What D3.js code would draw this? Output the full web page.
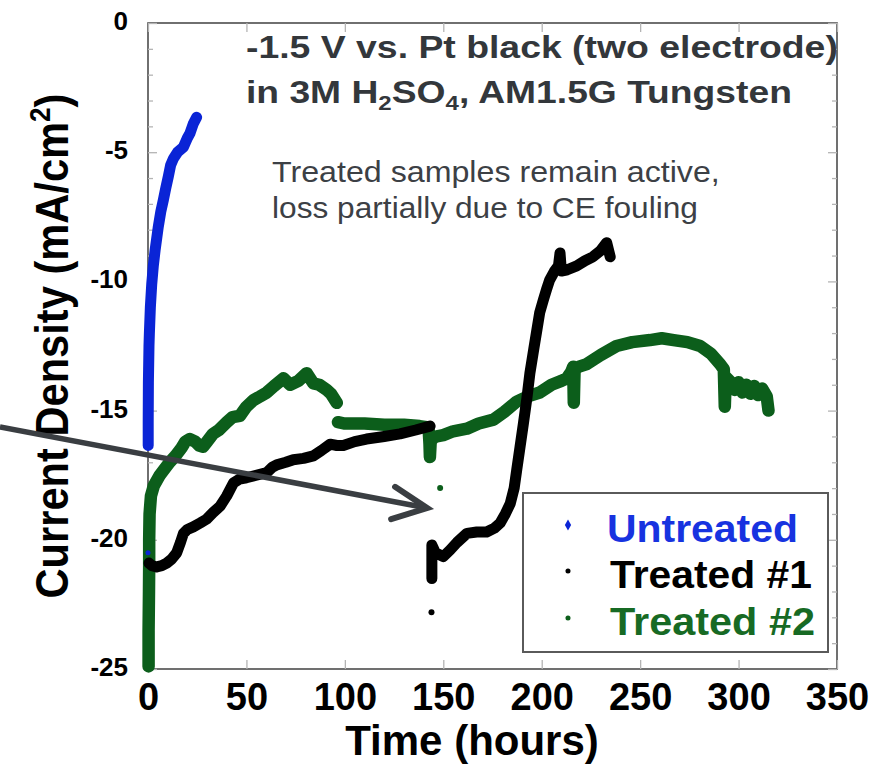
<!DOCTYPE html>
<html><head><meta charset="utf-8">
<script src="https://cdn.jsdelivr.net/npm/d3@7"></script>
<style>body{margin:0;background:#fff}svg{display:block}</style>
</head><body>
<svg id="chart" width="873" height="764"></svg>
<script>
// ---------------- data ----------------
const xTicks = [0, 50, 100, 150, 200, 250, 300, 350];
const yTicks = [0, -5, -10, -15, -20, -25];
const yMinorTicks = [-1,-2,-3,-4,-6,-7,-8,-9,-11,-12,-13,-14,-16,-17,-18,-19,-21,-22,-23,-24];
const seriesNames = ["Untreated", "Treated #1", "Treated #2"];

// [time (h), current density (mA/cm2)]; null = gap in the record
const untreated = [[0.1,-16.35],[0.1,-15.5],[0.2,-13.9],[0.5,-12.5],[0.7,-12.0],[1.2,-11.0],[1.9,-10.1],
  [2.7,-9.4],[3.6,-8.8],[5.2,-7.9],[6.5,-7.3],[7.8,-6.85],[9,-6.4],[10.3,-5.95],[11.5,-5.5],[12.9,-5.25],
  [15,-5.0],[18,-4.8],[20,-4.45],[21.3,-4.27],[23,-3.9],[24.7,-3.65]];
const untreatedStray = [[0,-20.5]];

const treated1 = [[0.5,-20.9],[2,-21.0],[4.4,-21.05],[7,-21.0],[9.5,-20.9],[12,-20.75],[14.6,-20.5],
  [16.5,-20.1],[18,-19.75],[20,-19.6],[23,-19.5],[26.5,-19.35],[29.8,-19.2],[33,-18.95],[36.6,-18.7],
  [40,-18.3],[43.4,-17.8],[46.5,-17.65],[50,-17.6],[55,-17.5],[60.3,-17.4],[63,-17.2],[65.4,-17.1],
  [70,-17.0],[73.8,-16.9],[79,-16.85],[84,-16.75],[88,-16.55],[92.5,-16.3],[96,-16.35],[99.2,-16.35],
  [105,-16.2],[111,-16.1],[120,-16.0],[128,-15.9],[136,-15.75],[143.3,-15.6],
  null,
  [144.2,-21.5],[144.2,-20.2],[146,-20.5],[150,-20.65],[153.4,-20.4],[157,-20.1],[162,-19.75],
  [167,-19.7],[172,-19.7],[176,-19.55],[178.9,-19.35],[181.5,-19.0],[184,-18.6],[186,-18.0],
  [187.3,-17.3],[189,-16.4],[190.7,-15.5],[192.5,-14.5],[194,-13.55],[196,-12.6],[197.5,-11.9],
  [199,-11.2],[200.9,-10.7],[202.5,-10.3],[204,-9.95],[206.5,-9.6],[208.5,-9.4],[209.3,-8.9],
  [210,-9.6],[213,-9.55],[217.8,-9.4],[222,-9.2],[226,-9.05],[230,-8.8],[233,-8.5],[234.8,-9.05]];
const treated1Stray = [[144,-22.8]];

const treated2 = [[0.3,-24.9],[0.3,-23.5],[0.5,-22.0],[0.6,-21.0],[0.6,-20.0],[0.8,-19.0],[1.5,-18.3],
  [3,-17.9],[6,-17.5],[8,-17.3],[11,-17.0],[14,-16.75],[17,-16.45],[19,-16.2],[21.3,-16.1],[24,-16.2],
  [26,-16.35],[28,-16.4],[30,-16.2],[33,-15.9],[36,-15.75],[40,-15.45],[43,-15.25],[46.7,-15.2],
  [50,-14.85],[53.5,-14.6],[57,-14.45],[60.3,-14.3],[64,-14.05],[68.8,-13.75],[72.2,-14.0],
  [76.4,-13.85],[80.6,-13.55],[84,-13.95],[87,-14.0],[90.8,-14.2],[93,-14.35],[95.9,-14.7],
  null,
  [96.5,-15.45],[100,-15.5],[110,-15.5],[120,-15.55],[130,-15.55],[138,-15.6],[142.5,-15.65],
  [143,-16.3],[143.2,-16.8],[143.6,-16.2],[145,-16.05],[146.7,-16.0],[150,-15.95],[155,-15.8],
  [162,-15.7],[168,-15.5],[175.5,-15.35],[181,-15.05],[187.3,-14.65],[193,-14.45],[199,-14.3],
  [205,-14.0],[210,-13.85],[212.7,-13.75],[215,-13.5],[216,-13.3],[216.3,-14.7],[216.7,-13.4],
  [219,-13.3],[222.9,-13.2],[230,-12.85],[238,-12.5],[246,-12.35],[255,-12.27],[261,-12.2],
  [267,-12.27],[274,-12.35],[280.5,-12.5],[286,-12.8],[290.6,-13.2],[292.5,-13.4],[293,-14.85],
  [293.5,-13.7],[296,-13.9],[298,-14.2],[300,-13.9],[302,-14.3],[304,-14.0],[306,-14.35],[308,-14.05],
  [310,-14.4],[312,-14.15],[314.3,-14.45],[315.2,-15.0]];
const treated2Stray = [[148.4,-18.0]];

// arrow annotation, in data units: start, tip, two wings
const arrowLine = [[-75.2,-15.63],[141.8,-18.77]];
const arrowHead = [[125.5,-17.95],[141.8,-18.77],[123.5,-19.2]];

// ---------------- drawing ----------------
const svg = d3.select("#chart");
const FONT = "'Liberation Sans', Arial, Helvetica, sans-serif";
const L = 148, R = 837, T = 23, B = 669;
const x = d3.scaleLinear().domain([0, 350]).range([L, R]);
const y = d3.scaleLinear().domain([-25, 0]).range([B, T]);

const COL_BLUE = "#0a24d6", COL_BLACK = "#000000", COL_GREEN = "#0c5e1b";
const plainNum = d => String(d);

function fitText(sel, target, sy) {
  const w = sel.node().getComputedTextLength();
  sel.attr("transform", `scale(${target / w},${sy || 1})`);
}

// frame
svg.append("rect").attr("x", L).attr("y", T).attr("width", R - L).attr("height", B - T)
  .attr("fill", "none").attr("stroke", "#4d4d4d").attr("stroke-width", 1.6);

function styleAxis(g) {
  g.select(".domain").remove();
  g.selectAll(".tick line").attr("stroke", "#b4b4b4").attr("stroke-width", 1.3);
}
// bottom axis
svg.append("g").attr("transform", `translate(0,${B})`)
  .call(d3.axisBottom(x).tickValues(xTicks).tickSizeInner(-9).tickSizeOuter(0).tickPadding(14).tickFormat(plainNum))
  .call(styleAxis)
  .call(g => g.selectAll("text").attr("font-family", FONT).attr("font-size", 38)
     .attr("font-weight", "bold").attr("fill", "#000"));
// top axis ticks
svg.append("g").attr("transform", `translate(0,${T})`)
  .call(d3.axisTop(x).tickValues(xTicks).tickSizeInner(-9).tickSizeOuter(0).tickFormat(""))
  .call(styleAxis);
// left axis
svg.append("g").attr("transform", `translate(${L},0)`)
  .call(d3.axisLeft(y).tickValues(yTicks).tickSizeInner(-9).tickSizeOuter(0).tickPadding(20).tickFormat(plainNum))
  .call(styleAxis)
  .call(g => g.selectAll("text").attr("font-family", FONT).attr("font-size", 26)
     .attr("font-weight", "bold").attr("fill", "#000").attr("dy", "0.25em"));
svg.append("g").attr("transform", `translate(${L},0)`)
  .call(d3.axisLeft(y).tickValues(yMinorTicks).tickSizeInner(-5).tickSizeOuter(0).tickFormat(""))
  .call(styleAxis);
// right axis ticks
svg.append("g").attr("transform", `translate(${R},0)`)
  .call(d3.axisRight(y).tickValues(yTicks).tickSizeInner(-9).tickSizeOuter(0).tickFormat(""))
  .call(styleAxis);
svg.append("g").attr("transform", `translate(${R},0)`)
  .call(d3.axisRight(y).tickValues(yMinorTicks).tickSizeInner(-5).tickSizeOuter(0).tickFormat(""))
  .call(styleAxis);

// axis titles
svg.append("text").attr("x", 472).attr("y", 755).attr("text-anchor", "middle")
  .attr("font-family", FONT).attr("font-size", 42).attr("font-weight", "bold").attr("fill", "#000")
  .text("Time (hours)");

const yTitleG = svg.append("g").attr("transform", "translate(68,346) rotate(-90)");
const yTitle = yTitleG.append("text").attr("text-anchor", "middle")
  .attr("font-family", FONT).attr("font-size", 43).attr("font-weight", "bold").attr("fill", "#000");
yTitle.append("tspan").text("Current Density (mA/cm");
yTitle.append("tspan").attr("font-size", 27).attr("dy", -17).text("2");
yTitle.append("tspan").attr("dy", 17).text(")");
fitText(yTitle, 505, 1.08);

// series
const line = d3.line().defined(d => d !== null).x(d => x(d[0])).y(d => y(d[1])).curve(d3.curveLinear);
const plot = svg.append("g");
function drawSeries(data, color, width) {
  plot.append("path").datum(data).attr("d", line).attr("fill", "none").attr("stroke", color)
    .attr("stroke-width", width).attr("stroke-linejoin", "round").attr("stroke-linecap", "round");
}
function drawStray(data, color, r) {
  plot.selectAll(null).data(data).enter().append("circle")
    .attr("cx", d => x(d[0])).attr("cy", d => y(d[1])).attr("r", r).attr("fill", color);
}
drawSeries(treated2, COL_GREEN, 12.5);
drawStray(treated2Stray, COL_GREEN, 3);
drawSeries(treated1, COL_BLACK, 11);
drawStray(treated1Stray, COL_BLACK, 3);
drawSeries(untreated, COL_BLUE, 11);
drawStray(untreatedStray, COL_BLUE, 2.5);

// arrow
const arrowCol = "#3a3e42";
const aLine = d3.line().x(d => x(d[0])).y(d => y(d[1]));
svg.append("path").datum(arrowLine).attr("d", aLine).attr("stroke", arrowCol).attr("stroke-width", 5.5)
  .attr("fill", "none").attr("stroke-linecap", "butt");
svg.append("path").datum(arrowHead).attr("d", aLine).attr("stroke", arrowCol).attr("stroke-width", 6)
  .attr("fill", "none").attr("stroke-linecap", "round").attr("stroke-linejoin", "miter");

// title block
const titleCol = "#33373b";
const t1g = svg.append("g").attr("transform", "translate(246,58)");
const t1 = t1g.append("text").attr("font-family", FONT).attr("font-size", 31).attr("font-weight", "bold")
  .attr("fill", titleCol).text("-1.5 V vs. Pt black (two electrode)");
fitText(t1, 592);
const t2g = svg.append("g").attr("transform", "translate(246,103)");
const t2 = t2g.append("text").attr("font-family", FONT).attr("font-size", 31).attr("font-weight", "bold")
  .attr("fill", titleCol);
t2.append("tspan").text("in 3M H");
t2.append("tspan").attr("font-size", 20).attr("dy", 7).text("2");
t2.append("tspan").attr("dy", -7).text("SO");
t2.append("tspan").attr("font-size", 20).attr("dy", 7).text("4");
t2.append("tspan").attr("dy", -7).text(", AM1.5G Tungsten");
fitText(t2, 546);

const noteCol = "#3c4045";
const n1g = svg.append("g").attr("transform", "translate(272,182)");
const n1 = n1g.append("text").attr("font-family", FONT).attr("font-size", 29).attr("fill", noteCol)
  .text("Treated samples remain active,");
fitText(n1, 448);
const n2g = svg.append("g").attr("transform", "translate(272,218)");
const n2 = n2g.append("text").attr("font-family", FONT).attr("font-size", 29).attr("fill", noteCol)
  .text("loss partially due to CE fouling");
fitText(n2, 426);

// legend
svg.append("rect").attr("x", 523).attr("y", 493).attr("width", 305).attr("height", 159)
  .attr("fill", "#fff").attr("stroke", "#5a5a5a").attr("stroke-width", 2);
const legendCols = ["#1733e0", "#000000", "#176a24"];
const markerCols = [COL_BLUE, COL_BLACK, COL_GREEN];
const legendBase = [542, 588, 635];
const legendX = [607, 610, 610];
const legendW = [191, 202, 205];
seriesNames.forEach((name, i) => {
  const g = svg.append("g").attr("transform", `translate(${legendX[i]},${legendBase[i]})`);
  const t = g.append("text").attr("font-family", FONT).attr("font-size", 38).attr("font-weight", "bold")
    .attr("fill", legendCols[i]).text(name);
  fitText(t, legendW[i]);
  const sym = i === 0 ? d3.symbolDiamond : d3.symbolCircle;
  svg.append("path").attr("d", d3.symbol().type(sym).size(i === 0 ? 34 : 20)())
    .attr("transform", `translate(568,${legendBase[i] - 17})`).attr("fill", markerCols[i]);
});
</script>
</body></html>
